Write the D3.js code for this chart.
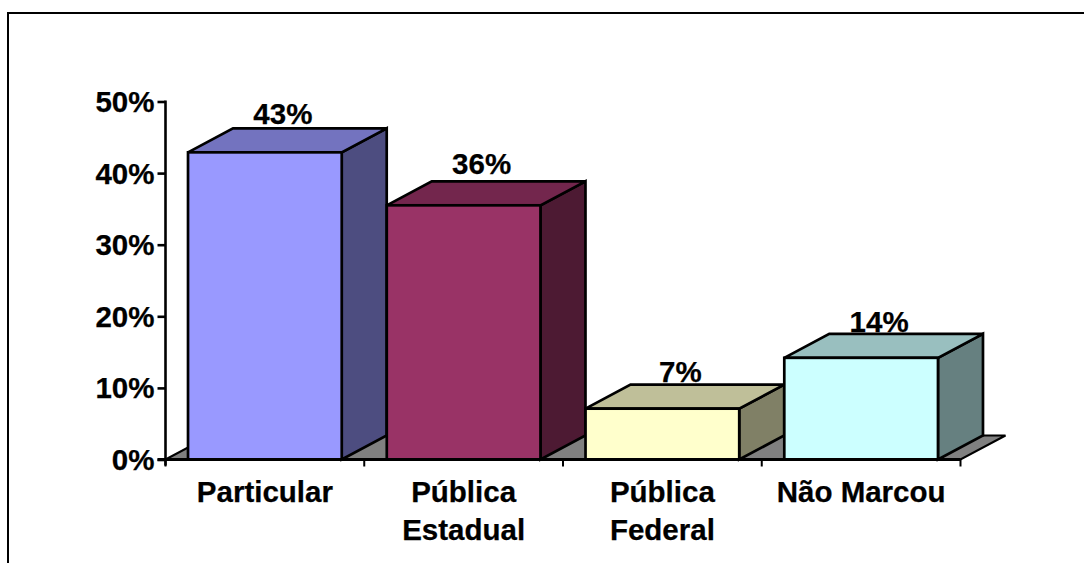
<!DOCTYPE html>
<html><head><meta charset="utf-8">
<script src="https://cdn.jsdelivr.net/npm/d3@7"></script>
<style>html,body{margin:0;padding:0;background:#fff;overflow:hidden}svg{display:block}
text{font-family:"Liberation Sans",Arial,sans-serif;font-weight:700;fill:#000;stroke:#000;stroke-width:.25px}</style></head>
<body><svg id="c" width="1084" height="563"></svg>
<script>
const categories = [["Particular"],["Pública","Estadual"],["Pública","Federal"],["Não Marcou"]];
const values = [42.9,35.5,7.1,14.2];
const labelValues = [43,36,7,14];
const tickValues = [0,10,20,30,40,50];
const frontColors = ["#9999ff","#993366","#ffffcc","#ccffff"];
const topColors = ["#7373bf","#73264d","#bfbf99","#99bfbf"];
const sideColors = ["#4d4d80","#4d1a33","#808066","#668080"];

const svg = d3.select("#c");
const dx = 45, dy = 24;
const fs = 29.5;
const y = d3.scaleLinear().domain([0,50]).range([459.5,101.5]);
const x = d3.scaleBand().domain(d3.range(4)).range([165.5,960.5]).paddingInner(0.2267).paddingOuter(0.1133);
const x0 = 165.5, x1 = 960.5, y0 = y(0);

svg.append("path").attr("d","M8 563V13H1084").attr("fill","none").attr("stroke","#000").attr("stroke-width",2);

svg.append("polygon")
  .attr("points",[[x0,y0],[x1,y0],[x1+dx,y0-dy],[x0+dx,y0-dy]].join(" "))
  .attr("fill","#808080").attr("stroke","#000").attr("stroke-width",2);

const g = svg.selectAll(".bar").data(values).join("g").attr("class","bar");
function styled(sel){return sel.attr("stroke","#000").attr("stroke-width",2.7).attr("stroke-linejoin","miter");}
styled(g.append("polygon").attr("fill",(d,i)=>sideColors[i])
  .attr("points",(d,i)=>{const r=x(i)+x.bandwidth();return [[r,y(d)],[r+dx,y(d)-dy],[r+dx,y0-dy],[r,y0]].join(" ");}));
styled(g.append("polygon").attr("fill",(d,i)=>topColors[i])
  .attr("points",(d,i)=>{const l=x(i),r=l+x.bandwidth();return [[l,y(d)],[l+dx,y(d)-dy],[r+dx,y(d)-dy],[r,y(d)]].join(" ");}));
styled(g.append("rect").attr("fill",(d,i)=>frontColors[i])
  .attr("x",(d,i)=>x(i)).attr("width",x.bandwidth()).attr("y",d=>y(d)).attr("height",d=>y0-y(d)));

svg.selectAll(".vl").data(labelValues).join("text").attr("class","vl").attr("text-anchor","middle").attr("font-size",fs)
  .attr("x",(d,i)=>x(i)+x.bandwidth()/2+18).attr("y",d=>y(d)-27.5).text(d=>d+"%");

const yAxis = svg.append("g").attr("transform",`translate(${x0},0)`).call(d3.axisLeft(y).tickValues(tickValues).tickSize(8).tickFormat(d=>d+"%"));
yAxis.select(".domain").attr("stroke","#000").attr("stroke-width",2.6).attr("d",`M0 ${y(50)-1}V${y0+6}`);
yAxis.selectAll(".tick line").attr("stroke","#000").attr("stroke-width",2.6);
yAxis.selectAll("text").attr("font-size",fs).attr("font-family",null).attr("x",-11).attr("dy","0.34em");

const ticks = d3.range(5).map(i=>x0+i*(x1-x0)/4);
svg.selectAll(".xt").data(ticks).join("line").attr("class","xt").attr("x1",d=>d).attr("x2",d=>d).attr("y1",y0).attr("y2",y0+7).attr("stroke","#000").attr("stroke-width",2);
svg.append("line").attr("x1",x0-8).attr("x2",x1).attr("y1",y0).attr("y2",y0).attr("stroke","#000").attr("stroke-width",2.8);

const lab = svg.selectAll(".xl").data(categories).join("text").attr("class","xl").attr("text-anchor","middle").attr("font-size",fs)
  .attr("x",(d,i)=>x(i)+x.bandwidth()/2);
lab.selectAll("tspan").data(d=>d).join("tspan").attr("x",function(){return d3.select(this.parentNode).attr("x");})
  .attr("y",(d,i)=>502+i*38).text(d=>d);
</script></body></html>
